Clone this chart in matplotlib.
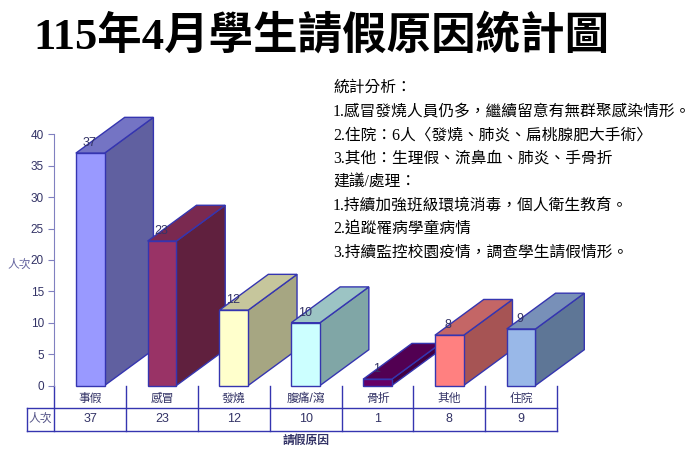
import matplotlib
matplotlib.use("Agg")
import matplotlib.pyplot as plt
from matplotlib.patches import Polygon, Rectangle
import matplotlib.transforms as mtransforms

plt.rcParams['font.family'] = ['Liberation Sans', 'Noto Sans CJK TC', 'DejaVu Sans']

# ---- data ----
categories = ["事假", "感冒", "發燒", "腹痛/瀉", "骨折", "其他", "住院"]
counts = [37, 23, 12, 10, 1, 8, 9]
row_label = "人次"
x_title = "請假原因"
y_title = "人次"
yticks = [0, 5, 10, 15, 20, 25, 30, 35, 40]
title = "115年4月學生請假原因統計圖"
notes = [
    "統計分析：",
    "1.感冒發燒人員仍多，繼續留意有無群聚感染情形。",
    "2.住院：6人〈發燒、肺炎、扁桃腺肥大手術〉",
    "3.其他：生理假、流鼻血、肺炎、手骨折",
    "建議/處理：",
    "1.持續加強班級環境消毒，個人衛生教育。",
    "2.追蹤罹病學童病情",
    "3.持續監控校園疫情，調查學生請假情形。",
]

# ---- styles ----
front_colors = ["#9999FF", "#993366", "#FFFFCC", "#CCFFFF", "#660066", "#FF8080", "#99B8E8"]
side_colors = ["#6060A0", "#60203E", "#A6A682", "#80A6A6", "#420042", "#A65454", "#5E7696"]
top_colors = ["#7474C4", "#7A2950", "#C6C69C", "#9CC4C4", "#520052", "#C46666", "#7890B8"]
edge = "#3535B0"
navy = "#333366"
axis_col = "#8080C0"

W, H = 700, 449
fig = plt.figure(figsize=(W / 100, H / 100), dpi=100)
fig.patch.set_facecolor("white")

left_px, right_px, top_px, bot_px = 54.3, 557.0, 134.3, 385.5
ax = fig.add_axes([left_px / W, 1 - bot_px / H, (right_px - left_px) / W, (bot_px - top_px) / H])
n = len(categories)
ax.set_xlim(-0.5, n - 0.5)
ax.set_ylim(0, 40)
for s in ["top", "right", "bottom"]:
    ax.spines[s].set_visible(False)
ax.spines["left"].set_color(axis_col)
ax.set_yticks(yticks)
ax.tick_params(axis="y", colors=axis_col, labelcolor=navy, labelsize=8.5, length=4, direction="out")
ax.set_xticks([])

bw = 0.40       # front width (category units)
dx = 0.68       # depth offset x (category units)
dy = 5.7        # depth offset y (value units)

for i, v in enumerate(counts):
    x0, x1 = i - bw / 2, i + bw / 2
    z = 2 + i * 3
    side = Polygon([(x1, 0), (x1 + dx, dy), (x1 + dx, v + dy), (x1, v)], closed=True,
                   facecolor=side_colors[i], edgecolor=edge, lw=1.0, zorder=z, clip_on=False)
    top = Polygon([(x0, v), (x0 + dx, v + dy), (x1 + dx, v + dy), (x1, v)], closed=True,
                  facecolor=top_colors[i], edgecolor=edge, lw=1.0, zorder=z + 0.5, clip_on=False)
    front = Rectangle((x0, 0), bw, v, facecolor=front_colors[i], edgecolor=edge, lw=1.0,
                      zorder=z + 1, clip_on=False)
    ax.add_patch(side)
    ax.add_patch(top)
    ax.add_patch(front)
    ax.annotate(str(v), (i, v), xytext=(-1, 10), textcoords="offset pixels", ha="center",
                va="center", fontsize=9, color=navy, zorder=50, annotation_clip=False)

# ---- data table under the axis ----
trans = mtransforms.blended_transform_factory(ax.transData, ax.transAxes)
ah = bot_px - top_px
y_cat = -13.5 / ah
y_ttop = -22.8 / ah
y_val = -33.5 / ah
y_tbot = -45.2 / ah
y_xt = -55.0 / ah
x_tleft = -0.5 - (left_px - 27.3) / ((right_px - left_px) / n)
x_rowlab = -0.5 - (left_px - 40.5) / ((right_px - left_px) / n)

for k in range(n + 1):
    ax.plot([k - 0.5, k - 0.5], [0, y_tbot], transform=trans, color=edge, lw=1.0, clip_on=False)
for yy in (y_ttop, y_tbot):
    ax.plot([x_tleft, n - 0.5], [yy, yy], transform=trans, color=edge, lw=1.0, clip_on=False)
ax.plot([x_tleft, x_tleft], [y_ttop, y_tbot], transform=trans, color=edge, lw=1.0, clip_on=False)

for i, (c, v) in enumerate(zip(categories, counts)):
    ax.text(i, y_cat, c, transform=trans, ha="center", va="center", fontsize=8.5, color=navy)
    ax.text(i, y_val, str(v), transform=trans, ha="center", va="center", fontsize=9, color=navy)
ax.text(x_rowlab, y_val, row_label, transform=trans, ha="center", va="center", fontsize=8.5, color="#555588")
ax.text((n - 1) / 2, y_xt, x_title, transform=trans, ha="center", va="center", fontsize=8.5,
        color=navy, fontweight="bold")
ax.text(-(left_px - 19) / (right_px - left_px), (bot_px - 265) / ah, y_title, transform=ax.transAxes,
        ha="center", va="center", fontsize=8.5, color="#6666A0")

# ---- title and notes ----
fig.text(33 / W, 1 - 36 / H, title, ha="left", va="center", fontsize=32, fontweight="bold",
         family=["Liberation Serif", "Noto Sans CJK TC"], color="black")
y0, step = 88, 23.6
for j, line in enumerate(notes):
    fig.text(333 / W, 1 - (y0 + j * step) / H, line, ha="left", va="center", fontsize=11.3,
             family=["Liberation Serif", "Noto Sans CJK TC"], color="black")

fig.savefig("out.png", dpi=100, facecolor="white")
